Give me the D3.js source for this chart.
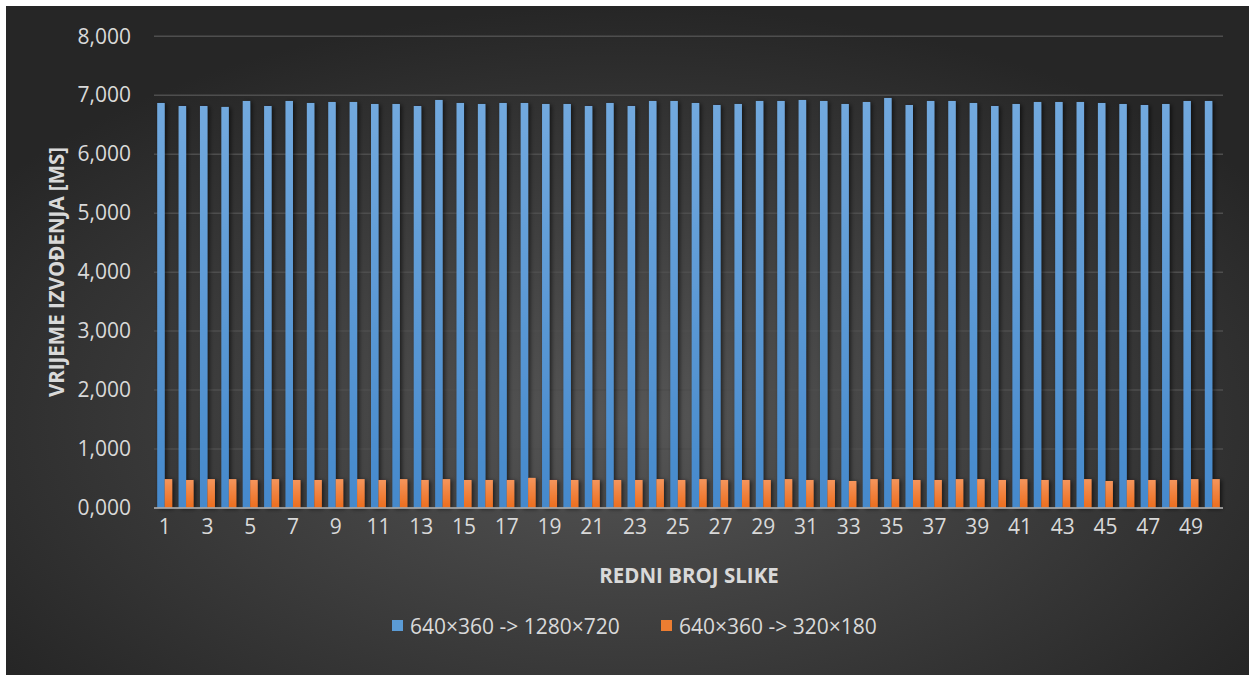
<!DOCTYPE html>
<html>
<head>
<meta charset="utf-8">
<script src="https://cdn.jsdelivr.net/npm/d3@7"></script>
<style>
  html, body { margin: 0; padding: 0; background: #ffffff; }
  svg { display: block; }
  text { font-family: "Open Sans", "Noto Sans", sans-serif; }
</style>
</head>
<body>
<svg id="chart" width="1251" height="675"></svg>
<script>
// ---- data ----
const categories = d3.range(1, 51).map(String);
const seriesNames = ["640×360 -> 1280×720", "640×360 -> 320×180"];
const upscaleValues = [
  6869, 6818, 6818, 6802, 6903, 6818, 6903, 6869, 6886, 6886,
  6852, 6852, 6818, 6920, 6869, 6852, 6869, 6869, 6852, 6852,
  6818, 6869, 6818, 6903, 6903, 6869, 6835, 6852, 6903, 6903,
  6920, 6903, 6852, 6886, 6954, 6835, 6903, 6903, 6869, 6818,
  6852, 6886, 6886, 6886, 6869, 6852, 6835, 6852, 6903, 6903
];
const downscaleValues = [
  490, 475, 490, 490, 475, 490, 475, 475, 490, 490,
  475, 490, 475, 490, 475, 475, 475, 510, 475, 475,
  475, 475, 475, 490, 475, 490, 475, 475, 475, 490,
  475, 475, 458, 490, 490, 475, 475, 490, 490, 475,
  490, 475, 475, 490, 458, 475, 475, 475, 490, 490
];
const yTickValues = [0, 1000, 2000, 3000, 4000, 5000, 6000, 7000, 8000];
const yTickLabels = ["0,000", "1,000", "2,000", "3,000", "4,000", "5,000", "6,000", "7,000", "8,000"];
const xTickLabels = categories.filter((c, i) => i % 2 === 0);
const yAxisTitle = "VRIJEME IZVOĐENJA [MS]";
const xAxisTitle = "REDNI BROJ SLIKE";

// ---- layout ----
const svg = d3.select("#chart");
const plot = { left: 154, right: 1223, top: 36.3, bottom: 508 };

const defs = svg.append("defs");
const bg = defs.append("radialGradient").attr("id", "bg")
  .attr("cx", "50%").attr("cy", "62%").attr("r", "62%")
  .attr("fx", "50%").attr("fy", "62%");
bg.append("stop").attr("offset", "0%").attr("stop-color", "#565656");
bg.append("stop").attr("offset", "100%").attr("stop-color", "#262626");

const gBlue = defs.append("linearGradient").attr("id", "gBlue").attr("x1", 0).attr("y1", 0).attr("x2", 0).attr("y2", 1);
gBlue.append("stop").attr("offset", "0%").attr("stop-color", "#72a9de");
gBlue.append("stop").attr("offset", "100%").attr("stop-color", "#4589cc");
const gOrange = defs.append("linearGradient").attr("id", "gOrange").attr("x1", 0).attr("y1", 0).attr("x2", 0).attr("y2", 1);
gOrange.append("stop").attr("offset", "0%").attr("stop-color", "#f5955c");
gOrange.append("stop").attr("offset", "100%").attr("stop-color", "#ec6d1d");

const shadow = defs.append("filter").attr("id", "shadow")
  .attr("x", "-50%").attr("y", "-5%").attr("width", "250%").attr("height", "110%");
shadow.append("feDropShadow").attr("dx", 2).attr("dy", 1).attr("stdDeviation", 2.2)
  .attr("flood-color", "#000").attr("flood-opacity", 0.6);

svg.append("rect").attr("x", 6).attr("y", 6).attr("width", 1243).attr("height", 669)
  .attr("fill", "url(#bg)");

const x = d3.scaleBand().domain(categories).range([plot.left, plot.right])
  .paddingInner(0.3).paddingOuter(0.15);
const xs = d3.scaleBand().domain(seriesNames).range([0, x.bandwidth()]).padding(0);
const y = d3.scaleLinear().domain([0, 8000]).range([plot.bottom, plot.top]);

// gridlines
svg.append("g").selectAll("line").data(yTickValues.slice(1)).join("line")
  .attr("x1", plot.left).attr("x2", plot.right)
  .attr("y1", d => y(d)).attr("y2", d => y(d))
  .attr("stroke", "#4e4e4e").attr("stroke-width", 1.5);

// y labels
const yAxis = d3.axisLeft(y).tickValues(yTickValues)
  .tickFormat((d, i) => yTickLabels[i]).tickSize(0).tickPadding(0);
const gy = svg.append("g").attr("transform", `translate(131,0)`).call(yAxis);
gy.select(".domain").remove();
gy.selectAll("text").attr("fill", "#d9d9d9").style("font-size", "21px")
  .style("font-family", "'Open Sans', sans-serif");

// bars
const series = [
  { name: seriesNames[0], values: upscaleValues, fill: "url(#gBlue)" },
  { name: seriesNames[1], values: downscaleValues, fill: "url(#gOrange)" }
];
const barsG = svg.append("g").attr("filter", "url(#shadow)");
series.forEach(s => {
  barsG.append("g").selectAll("rect").data(categories).join("rect")
    .attr("x", (c) => x(c) + xs(s.name))
    .attr("width", xs.bandwidth())
    .attr("y", (c, i) => y(s.values[i]))
    .attr("height", (c, i) => y(0) - y(s.values[i]))
    .attr("fill", s.fill);
});

// x axis
svg.append("line").attr("x1", plot.left).attr("x2", plot.right)
  .attr("y1", y(0)).attr("y2", y(0))
  .attr("stroke", "#a8a8a8").attr("stroke-width", 2.2).attr("stroke-opacity", 0.85);

const xAxis = d3.axisBottom(x).tickValues(xTickLabels).tickSize(0).tickPadding(0);
const gx = svg.append("g").attr("transform", `translate(0,${y(0) + 11})`).call(xAxis);
gx.select(".domain").remove();
gx.selectAll("text").attr("fill", "#d9d9d9").style("font-size", "21px")
  .style("font-family", "'Open Sans', sans-serif");

// titles
svg.append("text").attr("x", 689).attr("y", 583).attr("text-anchor", "middle")
  .attr("fill", "#d9d9d9").style("font-size", "20.5px").style("font-weight", "bold")
  .text(xAxisTitle);
svg.append("text").attr("transform", "translate(64,272) rotate(-90)").attr("text-anchor", "middle")
  .attr("fill", "#d9d9d9").style("font-size", "20.5px").style("font-weight", "bold")
  .text(yAxisTitle);

// legend
const legend = [
  { name: seriesNames[0], color: "#5b9bd5", x: 392 },
  { name: seriesNames[1], color: "#ed7d31", x: 661 }
];
const lg = svg.append("g");
legend.forEach(l => {
  lg.append("rect").attr("x", l.x).attr("y", 620).attr("width", 11).attr("height", 11).attr("fill", l.color);
  lg.append("text").attr("x", l.x + 18).attr("y", 634).attr("fill", "#d9d9d9")
    .style("font-size", "21px").text(l.name);
});
</script>
</body>
</html>
